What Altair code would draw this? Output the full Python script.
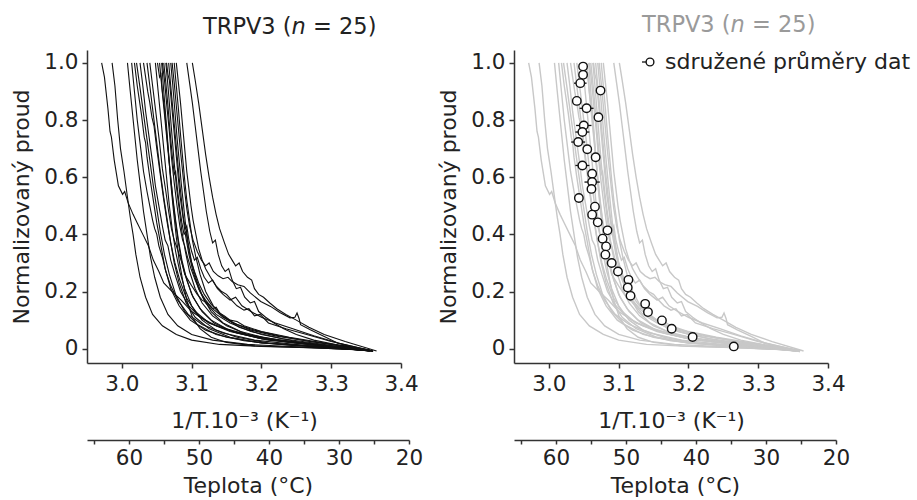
import altair as alt
import pandas as pd

FONT = "DejaVu Sans"

# ---- individual normalized current traces (x = 1/T * 1e3, y = normalized current) ----
cell_01 = [(2.971, 1.00), (2.975, 0.95), (2.980, 0.84), (2.983, 0.76), (2.985, 0.74), (2.989, 0.66),
           (2.995, 0.57), (3.001, 0.54), (3.004, 0.55), (3.009, 0.51), (3.016, 0.47), (3.022, 0.44),
           (3.030, 0.40), (3.038, 0.36), (3.045, 0.31), (3.053, 0.27), (3.060, 0.23), (3.072, 0.20),
           (3.085, 0.17), (3.100, 0.13), (3.125, 0.09), (3.160, 0.06), (3.200, 0.04), (3.260, 0.02),
           (3.340, -0.005)]
cell_02 = [(2.986, 1.00), (2.990, 0.92), (2.994, 0.80), (2.998, 0.70), (3.003, 0.62), (3.008, 0.53),
           (3.012, 0.46), (3.016, 0.40), (3.020, 0.33), (3.026, 0.25), (3.034, 0.18), (3.044, 0.12),
           (3.058, 0.08), (3.078, 0.05), (3.100, 0.03), (3.140, 0.015), (3.200, 0.008), (3.280, 0.003),
           (3.350, -0.005)]
cell_03 = [(3.008, 1.00), (3.012, 0.90), (3.017, 0.78), (3.022, 0.66), (3.027, 0.56), (3.031, 0.48),
           (3.036, 0.40), (3.041, 0.32), (3.047, 0.25), (3.055, 0.18), (3.066, 0.12), (3.080, 0.08),
           (3.100, 0.05), (3.130, 0.03), (3.180, 0.015), (3.250, 0.007), (3.350, -0.005)]
cell_04 = [(3.014, 1.00), (3.018, 0.90), (3.022, 0.80), (3.027, 0.70), (3.031, 0.62), (3.036, 0.55),
           (3.040, 0.50), (3.044, 0.45), (3.047, 0.42), (3.050, 0.40), (3.053, 0.36), (3.058, 0.32),
           (3.063, 0.27), (3.070, 0.22), (3.080, 0.17), (3.095, 0.12), (3.115, 0.085), (3.145, 0.055),
           (3.190, 0.03), (3.260, 0.012), (3.355, -0.008)]
cell_05 = [(3.018, 1.00), (3.022, 0.92), (3.028, 0.82), (3.032, 0.74), (3.034, 0.72), (3.036, 0.67),
           (3.040, 0.60), (3.045, 0.52), (3.050, 0.44), (3.056, 0.36), (3.062, 0.28), (3.070, 0.21),
           (3.082, 0.15), (3.098, 0.10), (3.120, 0.065), (3.150, 0.04), (3.200, 0.02), (3.280, 0.008),
           (3.350, -0.005)]
cell_06 = [(3.021, 1.00), (3.025, 0.93), (3.030, 0.84), (3.035, 0.75), (3.040, 0.66), (3.045, 0.57),
           (3.050, 0.49), (3.055, 0.41), (3.061, 0.33), (3.068, 0.26), (3.077, 0.19), (3.090, 0.13),
           (3.108, 0.085), (3.135, 0.05), (3.175, 0.028), (3.240, 0.012), (3.345, -0.004)]
cell_07 = [(3.026, 1.00), (3.030, 0.92), (3.034, 0.83), (3.039, 0.74), (3.044, 0.65), (3.048, 0.57),
           (3.053, 0.50), (3.058, 0.43), (3.062, 0.38), (3.066, 0.36), (3.070, 0.31), (3.076, 0.26),
           (3.084, 0.20), (3.096, 0.15), (3.112, 0.11), (3.135, 0.08), (3.165, 0.055), (3.210, 0.03),
           (3.280, 0.012), (3.350, -0.006)]
cell_08 = [(3.031, 1.00), (3.034, 0.95), (3.037, 0.90), (3.040, 0.86), (3.043, 0.81), (3.046, 0.78),
           (3.050, 0.70), (3.055, 0.61), (3.060, 0.52), (3.065, 0.44), (3.070, 0.37), (3.076, 0.30),
           (3.083, 0.24), (3.092, 0.18), (3.105, 0.13), (3.125, 0.09), (3.155, 0.06), (3.200, 0.035),
           (3.270, 0.015), (3.355, -0.008)]
cell_09 = [(3.036, 1.00), (3.040, 0.92), (3.045, 0.82), (3.050, 0.72), (3.055, 0.62), (3.060, 0.53),
           (3.065, 0.45), (3.070, 0.37), (3.075, 0.30), (3.082, 0.23), (3.092, 0.16), (3.105, 0.11),
           (3.125, 0.07), (3.155, 0.04), (3.200, 0.02), (3.270, 0.008), (3.350, -0.005)]
cell_10 = [(3.040, 1.00), (3.044, 0.92), (3.049, 0.82), (3.054, 0.72), (3.058, 0.63), (3.063, 0.55),
           (3.067, 0.48), (3.071, 0.42), (3.075, 0.38), (3.078, 0.36), (3.082, 0.33), (3.086, 0.30),
           (3.090, 0.26), (3.095, 0.24), (3.100, 0.22), (3.108, 0.19), (3.115, 0.17), (3.122, 0.16),
           (3.130, 0.14), (3.135, 0.145), (3.140, 0.125), (3.147, 0.115), (3.155, 0.10), (3.165, 0.095),
           (3.175, 0.08), (3.200, 0.06), (3.240, 0.04), (3.290, 0.02), (3.355, -0.006)]
cell_11 = [(3.048, 1.00), (3.052, 0.90), (3.056, 0.80), (3.060, 0.70), (3.064, 0.60), (3.068, 0.50),
           (3.072, 0.42), (3.077, 0.34), (3.083, 0.27), (3.090, 0.21), (3.100, 0.15), (3.115, 0.10),
           (3.135, 0.065), (3.165, 0.04), (3.210, 0.02), (3.280, 0.008), (3.350, -0.004)]
cell_12 = [(3.051, 1.00), (3.054, 0.95), (3.056, 0.96), (3.058, 0.90), (3.061, 0.84), (3.064, 0.76),
           (3.067, 0.68), (3.070, 0.60), (3.073, 0.52), (3.077, 0.44), (3.081, 0.37), (3.086, 0.30),
           (3.093, 0.24), (3.102, 0.18), (3.115, 0.13), (3.132, 0.09), (3.158, 0.06), (3.200, 0.035),
           (3.270, 0.015), (3.355, -0.008)]
cell_13 = [(3.054, 1.00), (3.057, 0.92), (3.061, 0.82), (3.065, 0.72), (3.069, 0.62), (3.073, 0.53),
           (3.077, 0.45), (3.081, 0.38), (3.086, 0.31), (3.092, 0.25), (3.100, 0.19), (3.112, 0.14),
           (3.128, 0.10), (3.150, 0.07), (3.185, 0.045), (3.240, 0.022), (3.300, 0.008), (3.360, -0.01)]
cell_14 = [(3.057, 1.00), (3.060, 0.90), (3.064, 0.78), (3.067, 0.68), (3.070, 0.58), (3.074, 0.48),
           (3.078, 0.39), (3.082, 0.31), (3.087, 0.24), (3.093, 0.17), (3.101, 0.11), (3.112, 0.07),
           (3.128, 0.04), (3.150, 0.022), (3.190, 0.01), (3.260, 0.004), (3.350, -0.004)]
cell_15 = [(3.058, 1.00), (3.061, 0.94), (3.064, 0.86), (3.068, 0.76), (3.071, 0.67), (3.075, 0.58),
           (3.079, 0.50), (3.083, 0.43), (3.087, 0.38), (3.090, 0.36), (3.094, 0.32), (3.099, 0.28),
           (3.105, 0.24), (3.112, 0.20), (3.120, 0.17), (3.130, 0.14), (3.145, 0.11), (3.165, 0.085),
           (3.190, 0.065), (3.225, 0.045), (3.270, 0.025), (3.320, 0.01), (3.360, -0.008)]
cell_16 = [(3.060, 1.00), (3.063, 0.93), (3.066, 0.85), (3.069, 0.76), (3.072, 0.68), (3.075, 0.61),
           (3.077, 0.62), (3.080, 0.55), (3.083, 0.49), (3.086, 0.44), (3.089, 0.40), (3.092, 0.41),
           (3.095, 0.36), (3.099, 0.31), (3.104, 0.27), (3.110, 0.23), (3.118, 0.19), (3.128, 0.155),
           (3.142, 0.12), (3.160, 0.09), (3.185, 0.065), (3.220, 0.045), (3.270, 0.025), (3.355, -0.006)]
cell_17 = [(3.063, 1.00), (3.066, 0.92), (3.069, 0.83), (3.072, 0.74), (3.075, 0.65), (3.078, 0.57),
           (3.082, 0.49), (3.086, 0.41), (3.091, 0.34), (3.097, 0.27), (3.105, 0.21), (3.115, 0.16),
           (3.130, 0.115), (3.150, 0.08), (3.180, 0.05), (3.225, 0.03), (3.290, 0.012), (3.355, -0.005)]
cell_18 = [(3.064, 1.00), (3.066, 0.96), (3.068, 0.94), (3.071, 0.86), (3.074, 0.78), (3.077, 0.70),
           (3.080, 0.62), (3.083, 0.54), (3.087, 0.47), (3.091, 0.40), (3.096, 0.33), (3.102, 0.27),
           (3.110, 0.21), (3.120, 0.16), (3.135, 0.12), (3.155, 0.09), (3.185, 0.06), (3.230, 0.035),
           (3.290, 0.015), (3.360, -0.01)]
cell_19 = [(3.067, 1.00), (3.070, 0.92), (3.073, 0.84), (3.076, 0.76), (3.079, 0.68), (3.082, 0.60),
           (3.085, 0.53), (3.088, 0.46), (3.091, 0.42), (3.093, 0.43), (3.096, 0.38), (3.100, 0.34),
           (3.104, 0.31), (3.108, 0.32), (3.113, 0.28), (3.118, 0.25), (3.124, 0.23), (3.130, 0.24),
           (3.137, 0.21), (3.145, 0.19), (3.155, 0.17), (3.163, 0.18), (3.172, 0.15), (3.185, 0.13),
           (3.200, 0.11), (3.220, 0.09), (3.245, 0.07), (3.275, 0.045), (3.310, 0.02), (3.360, -0.008)]
cell_20 = [(3.070, 1.00), (3.073, 0.92), (3.076, 0.83), (3.079, 0.74), (3.082, 0.66), (3.085, 0.58),
           (3.088, 0.51), (3.091, 0.44), (3.095, 0.37), (3.100, 0.30), (3.107, 0.24), (3.116, 0.18),
           (3.128, 0.13), (3.145, 0.09), (3.170, 0.06), (3.210, 0.035), (3.270, 0.015), (3.350, -0.005)]
cell_21 = [(3.072, 1.00), (3.075, 0.93), (3.078, 0.85), (3.081, 0.77), (3.084, 0.69), (3.087, 0.62),
           (3.090, 0.55), (3.093, 0.49), (3.097, 0.43), (3.102, 0.38), (3.108, 0.34), (3.114, 0.31),
           (3.120, 0.29), (3.125, 0.30), (3.131, 0.27), (3.138, 0.255), (3.145, 0.245), (3.152, 0.25),
           (3.158, 0.235), (3.166, 0.224), (3.175, 0.218), (3.184, 0.195), (3.199, 0.165),
           (3.213, 0.148), (3.227, 0.126), (3.241, 0.108), (3.248, 0.110), (3.251, 0.125), (3.254, 0.105),
           (3.256, 0.084), (3.270, 0.066), (3.290, 0.043), (3.309, 0.02), (3.333, 0.003), (3.356, -0.009)]
cell_22 = [(3.075, 1.00), (3.078, 0.92), (3.081, 0.84), (3.084, 0.75), (3.087, 0.67), (3.090, 0.59),
           (3.093, 0.52), (3.097, 0.45), (3.101, 0.38), (3.106, 0.32), (3.112, 0.26), (3.120, 0.20),
           (3.131, 0.15), (3.146, 0.11), (3.168, 0.075), (3.200, 0.05), (3.250, 0.025), (3.300, 0.01),
           (3.355, -0.005)]
cell_23 = [(3.078, 1.00), (3.081, 0.93), (3.084, 0.86), (3.087, 0.78), (3.090, 0.70), (3.093, 0.62),
           (3.096, 0.56), (3.099, 0.50), (3.102, 0.45), (3.106, 0.40), (3.110, 0.35), (3.115, 0.31),
           (3.120, 0.28), (3.127, 0.25), (3.135, 0.22), (3.143, 0.20), (3.150, 0.19), (3.157, 0.17),
           (3.165, 0.15), (3.175, 0.135), (3.182, 0.14), (3.190, 0.115), (3.198, 0.12), (3.210, 0.09),
           (3.235, 0.07), (3.265, 0.05), (3.300, 0.025), (3.360, -0.008)]
cell_24 = [(3.093, 1.00), (3.097, 0.93), (3.101, 0.86), (3.105, 0.78), (3.109, 0.70), (3.113, 0.62),
           (3.117, 0.55), (3.121, 0.48), (3.126, 0.41), (3.130, 0.37), (3.134, 0.38), (3.138, 0.33),
           (3.143, 0.29), (3.148, 0.27), (3.153, 0.28), (3.158, 0.24), (3.164, 0.21), (3.170, 0.215),
           (3.176, 0.18), (3.184, 0.16), (3.190, 0.165), (3.196, 0.13), (3.206, 0.11), (3.218, 0.09),
           (3.232, 0.07), (3.250, 0.05), (3.275, 0.03), (3.310, 0.013), (3.355, -0.005)]
cell_25 = [(3.101, 1.00), (3.105, 0.94), (3.110, 0.86), (3.115, 0.77), (3.120, 0.68), (3.125, 0.60),
           (3.130, 0.53), (3.135, 0.47), (3.140, 0.42), (3.147, 0.37), (3.153, 0.33), (3.158, 0.31),
           (3.163, 0.29), (3.168, 0.30), (3.173, 0.27), (3.180, 0.25), (3.186, 0.24), (3.190, 0.21),
           (3.196, 0.19), (3.203, 0.18), (3.212, 0.16), (3.222, 0.14), (3.235, 0.12), (3.250, 0.10),
           (3.268, 0.075), (3.290, 0.05), (3.320, 0.025), (3.365, -0.008)]

cells = [cell_01, cell_02, cell_03, cell_04, cell_05, cell_06, cell_07, cell_08, cell_09, cell_10,
         cell_11, cell_12, cell_13, cell_14, cell_15, cell_16, cell_17, cell_18, cell_19, cell_20,
         cell_21, cell_22, cell_23, cell_24, cell_25]

# ---- pooled data averages (right panel) ----
mean_x = [3.049, 3.049, 3.045, 3.074, 3.040, 3.054, 3.071, 3.050, 3.048, 3.042, 3.055, 3.067,
          3.048, 3.062, 3.062, 3.061, 3.043, 3.066, 3.062, 3.070, 3.084, 3.077, 3.082, 3.081,
          3.090, 3.099, 3.114, 3.113, 3.117, 3.138, 3.142, 3.162, 3.176, 3.206, 3.265]
mean_y = [0.987, 0.958, 0.929, 0.903, 0.867, 0.841, 0.810, 0.781, 0.758, 0.723, 0.698, 0.670,
          0.641, 0.612, 0.583, 0.559, 0.527, 0.497, 0.469, 0.442, 0.414, 0.385, 0.358, 0.329,
          0.300, 0.270, 0.241, 0.214, 0.185, 0.157, 0.128, 0.099, 0.070, 0.041, 0.008]
mean_xerr = [0.003, 0.003, 0.009, 0.003, 0.006, 0.010, 0.003, 0.011, 0.010, 0.010, 0.004, 0.003,
             0.010, 0.005, 0.011, 0.004, 0.003, 0.003, 0.004, 0.003, 0.003, 0.003, 0.003, 0.003,
             0.003, 0.003, 0.003, 0.003, 0.003, 0.003, 0.003, 0.003, 0.003, 0.003, 0.003]

x_ticks = [3.0, 3.1, 3.2, 3.3, 3.4]
y_ticks = [0.0, 0.2, 0.4, 0.6, 0.8, 1.0]
temp_ticks = [65, 60, 55, 50, 45, 40, 35, 30, 25, 20]

title_parts = ["TRPV3 (", "n", "= 25)"]
legend_label = "sdružené průměry dat"

# ---- tables ----
rows = []
for ci, cell in enumerate(cells):
    for pi, (xv, yv) in enumerate(cell):
        rows.append({"cell": ci, "i": pi, "x": xv, "y": yv})
curves = pd.DataFrame(rows)
means = pd.DataFrame({"x": mean_x, "y": mean_y,
                      "lo": [a - e for a, e in zip(mean_x, mean_xerr)],
                      "hi": [a + e for a, e in zip(mean_x, mean_xerr)]})
temps = pd.DataFrame({"T": temp_ticks})
one = pd.DataFrame({"a": [0]})

W, H = 314, 313
x_scale = alt.Scale(domain=[2.95, 3.4], nice=False, zero=False)
y_scale = alt.Scale(domain=[-0.05, 1.045], nice=False, zero=False)


def x_enc(field="x"):
    return alt.X(f"{field}:Q", scale=x_scale,
                 axis=alt.Axis(values=x_ticks, format=".1f", title="1/T.10⁻³ (K⁻¹)",
                               tickSize=5, labelPadding=5, titlePadding=16, grid=False,
                               labelFlush=False))


def y_enc(field="y"):
    return alt.Y(f"{field}:Q", scale=y_scale,
                 axis=alt.Axis(values=y_ticks, title="Normalizovaný proud",
                               labelExpr="datum.value == 0 ? '0' : format(datum.value, '.1f')",
                               tickSize=5, labelPadding=4, titlePadding=10, grid=False,
                               labelFlush=False))


def temp_layer():
    return alt.Chart(temps).mark_point(opacity=0).encode(
        x=alt.X("T:Q", scale=alt.Scale(domain=[66, 20], range=[0, 322], nice=False, zero=False),
                axis=alt.Axis(orient="bottom", offset=77, values=temp_ticks,
                              labelExpr="datum.value % 10 == 0 ? datum.label : ''",
                              title="Teplota (°C)", tickSize=4, labelPadding=3,
                              titlePadding=7, grid=False, labelFlush=False))
    )


def title_layers(x0, y0, color):
    fs = 22.5
    w1, w2, sp = 3.937 * fs, 0.634 * fs, 0.318 * fs
    a = alt.Chart(one).mark_text(text=title_parts[0], align="left", baseline="alphabetic",
                                 font=FONT, fontSize=fs, color=color).encode(
        x=alt.value(x0), y=alt.value(y0))
    b = alt.Chart(one).mark_text(text=title_parts[1], align="left", baseline="alphabetic",
                                 font=FONT, fontSize=fs, fontStyle="italic", color=color).encode(
        x=alt.value(x0 + w1), y=alt.value(y0))
    c = alt.Chart(one).mark_text(text=title_parts[2], align="left", baseline="alphabetic",
                                 font=FONT, fontSize=fs, color=color).encode(
        x=alt.value(x0 + w1 + w2 + sp), y=alt.value(y0))
    return [a, b, c]


left_lines = alt.Chart(curves).mark_line(color="#111111", strokeWidth=1.1).encode(
    x=x_enc(), y=y_enc(), detail="cell:N", order="i:Q")

left_inner = alt.layer(left_lines, *title_layers(116, -16, "#222222"))
left = alt.layer(left_inner, temp_layer()).resolve_scale(
    x="independent").properties(width=W, height=H)

right_lines = alt.Chart(curves).mark_line(color="#c8c8c8", strokeWidth=1.4).encode(
    x=x_enc(), y=y_enc(), detail="cell:N", order="i:Q")
err = alt.Chart(means).mark_rule(color="#111111", strokeWidth=1.3).encode(
    x=x_enc("lo"), x2="hi:Q", y=y_enc())
pts = alt.Chart(means).mark_point(shape="circle", filled=True, fill="white", stroke="#111111",
                                  strokeWidth=1.4, size=72, opacity=1).encode(
    x=x_enc(), y=y_enc())
leg_rule = alt.Chart(one).mark_rule(color="#111111", strokeWidth=1.3).encode(
    x=alt.value(128), x2=alt.value(136), y=alt.value(12))
leg_pt = alt.Chart(one).mark_point(shape="circle", filled=True, fill="white", stroke="#111111",
                                   strokeWidth=1.4, size=60, opacity=1).encode(
    x=alt.value(136), y=alt.value(12))
leg_txt = alt.Chart(one).mark_text(text=legend_label, align="left", baseline="middle", font=FONT,
                                   fontSize=22, color="#222222").encode(
    x=alt.value(151), y=alt.value(12))

right_inner = alt.layer(right_lines, err, pts, leg_rule, leg_pt, leg_txt,
                        *title_layers(128, -18, "#9a9a9a"))
right = alt.layer(right_inner, temp_layer()).resolve_scale(
    x="independent").properties(width=W, height=H)

chart = alt.hconcat(left, right, spacing=14).properties(
    padding={"left": 10, "top": 14, "right": 5, "bottom": 0}
).configure_view(strokeWidth=0).configure_axis(
    domainColor="#333333", domainWidth=1.5, tickColor="#333333", tickWidth=1.5,
    labelFont=FONT, labelFontSize=21.5, labelColor="#222222",
    titleFont=FONT, titleFontSize=22, titleFontWeight="normal", titleColor="#222222"
)

chart.save("out.html", embed_options={"renderer": "svg", "actions": False})
